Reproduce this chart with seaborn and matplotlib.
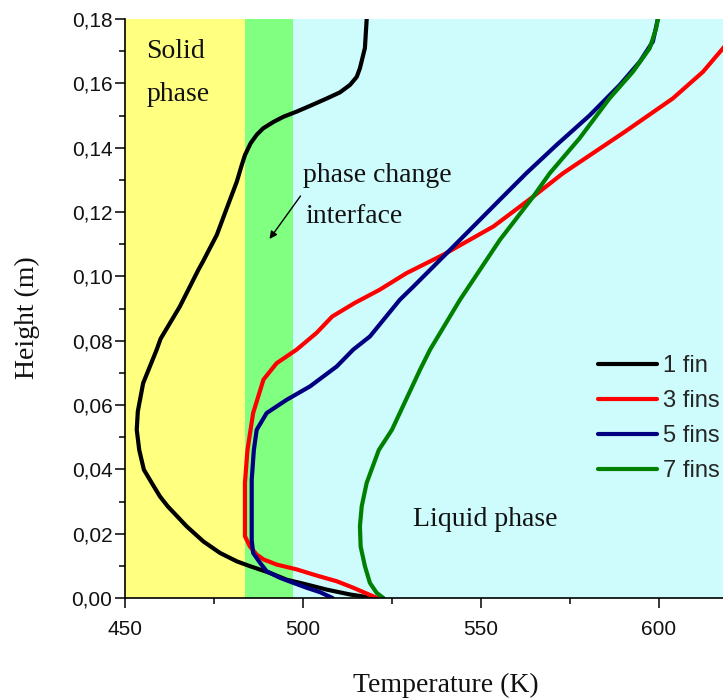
import matplotlib
matplotlib.use("Agg")
import matplotlib.pyplot as plt
import seaborn as sns
from matplotlib.ticker import MultipleLocator, FuncFormatter

# Temperature profiles along the height of the PCM enclosure
h_1fin = [0.000, 0.0011, 0.0026, 0.0042, 0.0057, 0.0078, 0.0099, 0.0114, 0.014, 0.0176,
          0.0223, 0.0285, 0.0316, 0.0358, 0.0399, 0.046, 0.0523, 0.058, 0.0668, 0.0772,
          0.0806, 0.0906, 0.102, 0.1046, 0.1129, 0.1212, 0.1294, 0.1346, 0.1377, 0.1414,
          0.144, 0.146, 0.148, 0.1496, 0.1512, 0.153, 0.1553, 0.1572, 0.1595, 0.162,
          0.1647, 0.171, 0.180]
T_1fin = [519.7, 513.2, 506.7, 501.0, 495.4, 490.7, 485.1, 481.4, 476.7, 472.0,
          467.3, 462.0, 459.8, 457.5, 455.3, 454.0, 453.3, 453.6, 455.1, 458.9,
          460.0, 465.4, 470.6, 471.9, 475.8, 478.6, 481.4, 482.8, 483.7, 485.3,
          487.0, 488.8, 491.7, 494.5, 498.2, 502.0, 506.7, 510.4, 513.2, 515.1,
          516.0, 517.4, 517.9]

h_3fins = [0.000, 0.0032, 0.0052, 0.007, 0.0089, 0.0104, 0.012, 0.0135, 0.016, 0.0192,
           0.0234, 0.0358, 0.046, 0.0575, 0.0679, 0.073, 0.0772, 0.0824, 0.0875, 0.0917,
           0.0958, 0.101, 0.1067, 0.1155, 0.1248, 0.132, 0.145, 0.1553, 0.1636, 0.1709,
           0.180]
T_3fins = [520.8, 514.1, 509.5, 503.8, 498.2, 492.6, 488.9, 487.0, 485.1, 483.7,
           483.7, 483.7, 484.4, 486.0, 488.9, 492.6, 498.2, 503.8, 508.2, 514.5,
           521.5, 529.1, 539.4, 553.5, 564.7, 573.0, 590.5, 603.9, 612.4, 618.0,
           624.0]

h_5fins = [0.000, 0.0018, 0.0032, 0.0047, 0.0063, 0.0083, 0.011, 0.014, 0.018, 0.0306,
           0.0368, 0.046, 0.0523, 0.0575, 0.0616, 0.0658, 0.072, 0.0772, 0.0813, 0.0927,
           0.0968, 0.1072, 0.1238, 0.132, 0.1408, 0.150, 0.1595, 0.1667, 0.173, 0.180]
T_5fins = [508.3, 504.8, 501.0, 497.3, 493.5, 489.8, 487.9, 486.0, 485.6, 485.6,
           485.6, 486.2, 487.0, 489.8, 495.4, 502.0, 509.5, 514.1, 518.8, 527.2,
           531.0, 540.4, 555.3, 562.7, 571.2, 580.5, 589.0, 594.6, 598.3, 599.7]

h_7fins = [0.000, 0.0016, 0.0047, 0.0099, 0.016, 0.0223, 0.0285, 0.0358, 0.046, 0.0523,
           0.071, 0.0772, 0.0927, 0.1113, 0.1248, 0.132, 0.1429, 0.1553, 0.1636, 0.1709,
           0.177, 0.180]
T_7fins = [522.6, 520.7, 518.8, 517.4, 516.2, 516.0, 516.5, 517.9, 521.3, 525.0,
           532.9, 535.7, 544.1, 555.3, 564.7, 569.3, 577.7, 586.1, 592.7, 597.4,
           599.2, 599.7]

series_labels = ["1 fin", "3 fins", "5 fins", "7 fins"]
series_colors = ["#000000", "#FF0000", "#000080", "#008000"]

# Phase regions (K)
T_min, T_max = 450, 618
solid_end = 483.7
mushy_end = 497.3

W, H = 723, 700

sns.set_theme(style="ticks")
plt.rcParams["font.family"] = ["Liberation Sans Narrow", "Liberation Sans", "DejaVu Sans"]

fig = plt.figure(figsize=(W / 100, H / 100), dpi=100)
ax = fig.add_axes([125 / W, 1 - 598 / H, 598 / W, 579 / H])


def ax_frac(px, py):
    """Pixel position on the figure -> axes fraction."""
    return (px - 125) / 598, (598 - py) / 579


ax.axvspan(T_min, solid_end, color="#FFFF80", lw=0, zorder=0)
ax.axvspan(solid_end, mushy_end, color="#80FF80", lw=0, zorder=0)
ax.axvspan(mushy_end, T_max + 20, color="#CEFBFB", lw=0, zorder=0)

curves = [(T_1fin, h_1fin), (T_3fins, h_3fins), (T_5fins, h_5fins), (T_7fins, h_7fins)]
for (T, h), c in zip(curves, series_colors):
    sns.lineplot(x=T, y=h, sort=False, estimator=None, color=c, lw=3.0,
                 ax=ax, legend=False, zorder=3)

ax.set_xlim(T_min, T_max)
ax.set_ylim(0, 0.18)

ax.xaxis.set_major_locator(MultipleLocator(50))
ax.xaxis.set_minor_locator(MultipleLocator(25))
ax.yaxis.set_major_locator(MultipleLocator(0.02))
ax.yaxis.set_minor_locator(MultipleLocator(0.01))
ax.yaxis.set_major_formatter(FuncFormatter(lambda v, p: f"{v:.2f}".replace(".", ",")))

for side in ("top", "right"):
    ax.spines[side].set_visible(False)
for side in ("left", "bottom"):
    ax.spines[side].set_linewidth(1.2)
    ax.spines[side].set_color("black")
    ax.spines[side].set_zorder(5)

ax.tick_params(which="major", direction="out", length=7.5, width=1.1, color="black",
               labelsize=15, labelcolor="#111111")
ax.tick_params(which="minor", direction="out", length=4, width=1.1, color="black")
ax.tick_params(axis="x", which="major", pad=8)
ax.tick_params(axis="y", which="major", pad=1.5)

serif = "Liberation Serif"
ax.set_xlabel("Temperature (K)", family=serif, fontsize=20, color="#111111", va="center")
ax.xaxis.set_label_coords(*ax_frac(446, 685))
ax.set_ylabel("Height (m)", family=serif, fontsize=20, color="#111111", va="center")
ax.yaxis.set_label_coords(*ax_frac(27, 318))

text_kw = dict(transform=ax.transAxes, family=serif, fontsize=20, color="#111111",
               ha="left", va="baseline", zorder=6)
ax.text(*ax_frac(146.5, 57.5), "Solid", **text_kw)
ax.text(*ax_frac(146.5, 101), "phase", **text_kw)
ax.text(*ax_frac(303, 181.5), "phase change", **text_kw)
ax.text(*ax_frac(305, 223), "interface", **text_kw)
ax.text(*ax_frac(413, 526.5), "Liquid phase", **text_kw)

ax.annotate("", xy=ax_frac(269.5, 239), xytext=ax_frac(300.5, 196),
            xycoords="axes fraction", textcoords="axes fraction",
            arrowprops=dict(arrowstyle="-|>", color="black", lw=1.0,
                            mutation_scale=11, shrinkA=0, shrinkB=0), zorder=6)

handles = ax.get_lines()[:4]
ax.legend(handles, series_labels, loc="upper left",
          bbox_to_anchor=ax_frac(598, 355.5), frameon=False, borderpad=0,
          borderaxespad=0, handlelength=2.5, handletextpad=0.25, labelspacing=0.55,
          prop=dict(family="Liberation Sans", size=17))

fig.savefig("out.png", dpi=100)
